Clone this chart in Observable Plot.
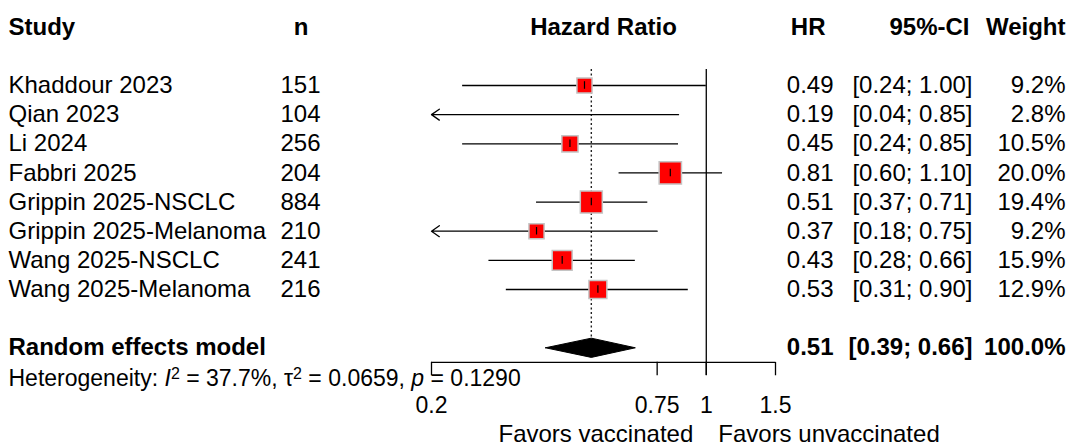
<!DOCTYPE html>
<html>
<head>
<meta charset="utf-8">
<script src="https://cdn.jsdelivr.net/npm/d3@7"></script>
<script src="https://cdn.jsdelivr.net/npm/@observablehq/plot@0.6"></script>
<style>
  html, body { margin: 0; padding: 0; background: #fff; }
  #chart svg { display: block; }
</style>
</head>
<body>
<div id="chart"></div>
<script>
// ---- data ----
const studies = ["Khaddour 2023", "Qian 2023", "Li 2024", "Fabbri 2025", "Grippin 2025-NSCLC", "Grippin 2025-Melanoma", "Wang 2025-NSCLC", "Wang 2025-Melanoma"];
const nTotal = [151, 104, 256, 204, 884, 210, 241, 216];
const hr = [0.49, 0.19, 0.45, 0.81, 0.51, 0.37, 0.43, 0.53];
const ciLower = [0.24, 0.04, 0.24, 0.60, 0.37, 0.18, 0.28, 0.31];
const ciUpper = [1.00, 0.85, 0.85, 1.10, 0.71, 0.75, 0.66, 0.90];
const weights = [9.2, 2.8, 10.5, 20.0, 19.4, 9.2, 15.9, 12.9];

const pooledLabel = "Random effects model";
const pooledHR = 0.51;
const pooledLower = 0.39;
const pooledUpper = 0.66;
const pooledWeight = 100.0;

const hetI2 = "37.7%";
const hetTau2 = "0.0659";
const hetP = "0.1290";

const xTicks = [0.2, 0.75, 1, 1.5];
const xDomain = [0.2, 1.5];
const headers = ["Study", "n", "Hazard Ratio", "HR", "95%-CI", "Weight"];
const favorLabels = ["Favors vaccinated", "Favors unvaccinated"];

// ---- layout (pixels / row indices) ----
const W = 1069, H = 446;
const rowHeader = -2, rowPooled = 9, rowHet = 10.05, rowAxis = 9.5, rowTickLab = 11, rowFavor = 11.98;
const colStudy = 8, colN = 320, colNHead = 308, colHRHead = 825, colHR = 833, colCIHead = 969, colCI = 972, colW = 1065, colPlotMid = 603;

const f2 = d3.format(".2f");
const rows = studies.map((s, i) => ({
  study: s, n: nTotal[i], hr: hr[i], lo: ciLower[i], hi: ciUpper[i], w: weights[i], row: i
}));
const inRange = v => v >= xDomain[0] && v <= xDomain[1];
const clip = v => Math.max(xDomain[0], Math.min(xDomain[1], v));
const lineRows = rows.filter(d => d.lo >= xDomain[0]);
const arrowRows = rows.filter(d => d.lo < xDomain[0]);
const sqRows = rows.filter(d => inRange(d.hr));

const dh = 0.33; // diamond half height in rows
const diamond = [
  {x: pooledLower, y: rowPooled},
  {x: pooledHR, y: rowPooled - dh},
  {x: pooledUpper, y: rowPooled},
  {x: pooledHR, y: rowPooled + dh},
  {x: pooledLower, y: rowPooled}
];

const txt = (data, opts) => Plot.text(data, Object.assign({frameAnchor: "left", fill: "black"}, opts));

const plot = Plot.plot({
  width: W, height: H,
  marginLeft: 0, marginRight: 0, marginTop: 0, marginBottom: 0,
  style: {fontFamily: "'Liberation Sans', Arial, sans-serif", fontSize: "24px", background: "white", overflow: "visible"},
  x: {type: "log", domain: xDomain, range: [431, 775], axis: null},
  y: {domain: [0, 7], range: [85, 289], axis: null},
  r: {type: "sqrt", domain: [0, 20], range: [0, 12.6]},
  marks: [
    // reference line at 1
    Plot.ruleX([1], {y1: -0.55, y2: rowAxis + 0.45, stroke: "black", strokeWidth: 1.3}),
    // dotted line at pooled estimate
    Plot.ruleX([pooledHR], {y1: -0.55, y2: rowPooled - dh, stroke: "#222", strokeWidth: 1.4, strokeDasharray: "2,2.5"}),
    // CI lines
    Plot.ruleY(lineRows, {y: "row", x1: d => clip(d.lo), x2: d => clip(d.hi), stroke: "black", strokeWidth: 1.3}),
    Plot.arrow(arrowRows, {x1: d => clip(d.hi), x2: () => xDomain[0], y1: "row", y2: "row", stroke: "black", strokeWidth: 1.3, headLength: 11, headAngle: 70}),
    // squares
    Plot.dot(sqRows, {x: "hr", y: "row", r: "w", symbol: "square", fill: "#ff0000", stroke: "#c4c4c4", strokeWidth: 1.5}),
    Plot.ruleX(sqRows, {x: "hr", y1: d => d.row - 0.13, y2: d => d.row + 0.13, stroke: "black", strokeWidth: 1.2}),
    // diamond
    Plot.line(diamond, {x: "x", y: "y", fill: "black", stroke: "black", strokeWidth: 1}),
    // axis
    Plot.ruleY([rowAxis], {x1: xDomain[0], x2: xDomain[1], stroke: "black", strokeWidth: 1.3}),
    Plot.ruleX(xTicks, {y1: rowAxis, y2: rowAxis + 0.46, stroke: "black", strokeWidth: 1.3}),
    Plot.text(xTicks, {x: d => d, y: () => rowTickLab, text: d => String(d), fontSize: 23, fill: "black"}),
    Plot.text([favorLabels[0]], {x: () => 1, y: () => rowFavor, text: d => d, textAnchor: "end", dx: -13, fontSize: 24, fill: "black"}),
    Plot.text([favorLabels[1]], {x: () => 1, y: () => rowFavor, text: d => d, textAnchor: "start", dx: 12, fontSize: 24, fill: "black"}),
    // headers
    txt([headers[0]], {y: () => rowHeader, text: d => d, dx: colStudy, textAnchor: "start", fontWeight: "bold"}),
    txt([headers[1]], {y: () => rowHeader, text: d => d, dx: colNHead, textAnchor: "end", fontWeight: "bold"}),
    txt([headers[2]], {y: () => rowHeader, text: d => d, dx: colPlotMid, textAnchor: "middle", fontWeight: "bold"}),
    txt([headers[3]], {y: () => rowHeader, text: d => d, dx: colHRHead, textAnchor: "end", fontWeight: "bold"}),
    txt([headers[4]], {y: () => rowHeader, text: d => d, dx: colCIHead, textAnchor: "end", fontWeight: "bold"}),
    txt([headers[5]], {y: () => rowHeader, text: d => d, dx: colW, textAnchor: "end", fontWeight: "bold"}),
    // study rows
    txt(rows, {y: "row", text: "study", dx: colStudy, textAnchor: "start"}),
    txt(rows, {y: "row", text: d => String(d.n), dx: colN, textAnchor: "end"}),
    txt(rows, {y: "row", text: d => f2(d.hr), dx: colHR, textAnchor: "end"}),
    txt(rows, {y: "row", text: d => `[${f2(d.lo)}; ${f2(d.hi)}]`, dx: colCI, textAnchor: "end"}),
    txt(rows, {y: "row", text: d => d.w.toFixed(1) + "%", dx: colW, textAnchor: "end"}),
    // pooled row
    txt([pooledLabel], {y: () => rowPooled, text: d => d, dx: colStudy, textAnchor: "start", fontWeight: "bold"}),
    txt([pooledHR], {y: () => rowPooled, text: d => f2(d), dx: colHR, textAnchor: "end", fontWeight: "bold"}),
    txt([[pooledLower, pooledUpper]], {y: () => rowPooled, text: d => `[${f2(d[0])}; ${f2(d[1])}]`, dx: colCI, textAnchor: "end", fontWeight: "bold"}),
    txt([pooledWeight], {y: () => rowPooled, text: d => d.toFixed(1) + "%", dx: colW, textAnchor: "end", fontWeight: "bold"}),
    // heterogeneity
    txt(["het"], {y: () => rowHet, text: () => `Heterogeneity: I2 = ${hetI2}, τ2 = ${hetTau2}, p = ${hetP}`, dx: colStudy, textAnchor: "start", fontSize: 23, className: "het"})
  ]
});

document.getElementById("chart").appendChild(plot);

// rich formatting for the heterogeneity label (italic symbols, superscripts)
d3.select(plot).selectAll(".het text").each(function() {
  const t = d3.select(this);
  t.text(null);
  const parts = [
    {s: "Heterogeneity: "},
    {s: "I", it: true},
    {s: "2", sup: true},
    {s: " = " + hetI2 + ", τ"},
    {s: "2", sup: true},
    {s: " = " + hetTau2 + ", "},
    {s: "p", it: true},
    {s: " = " + hetP}
  ];
  parts.forEach(p => {
    const ts = t.append("tspan").text(p.s);
    if (p.it) ts.attr("font-style", "italic");
    if (p.sup) ts.attr("font-size", "16px").attr("baseline-shift", "45%");
  });
});
</script>
</body>
</html>
